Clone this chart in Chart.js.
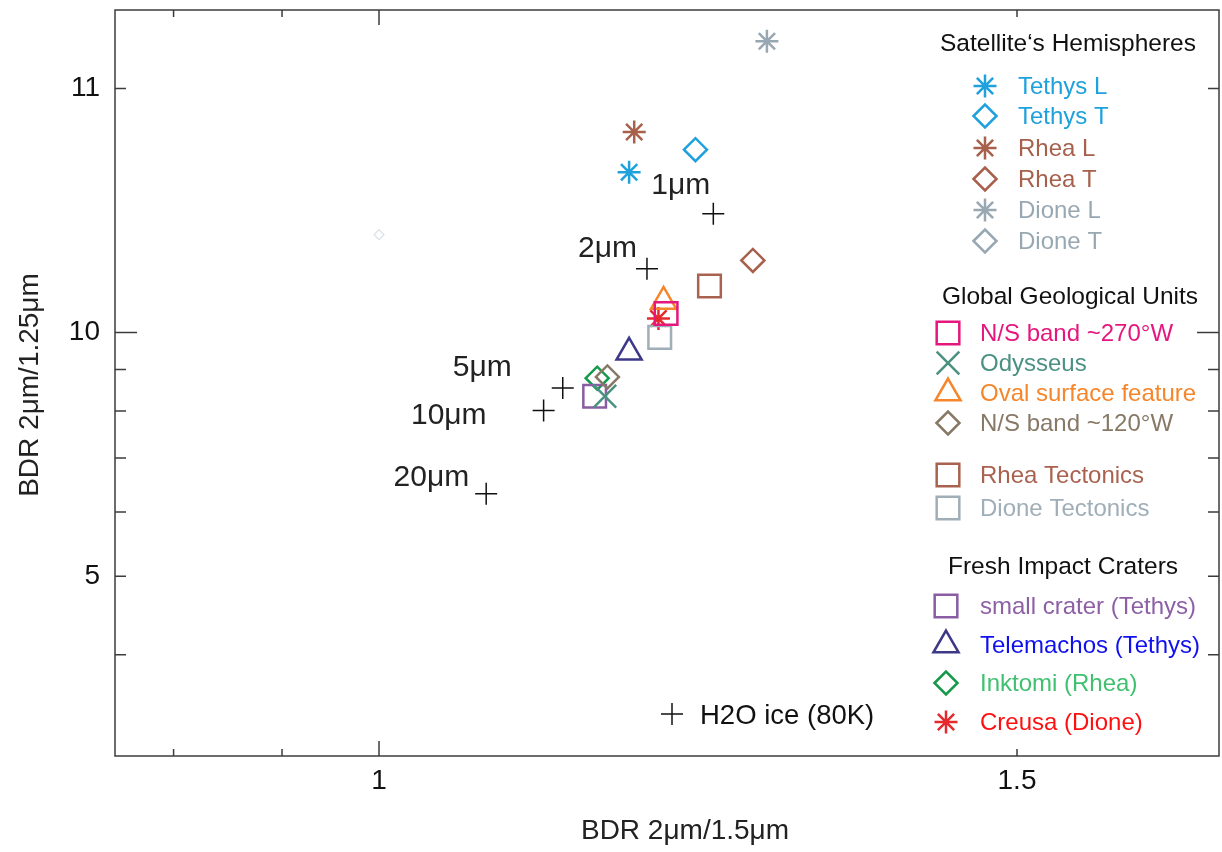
<!DOCTYPE html>
<html><head><meta charset="utf-8">
<script src="https://cdn.jsdelivr.net/npm/chart.js@4.4.1/dist/chart.umd.min.js"></script>
<style>html,body{margin:0;padding:0;background:#fff}canvas{display:block}</style>
</head><body>
<canvas id="c" width="1222" height="852" style="width:1222px;height:852px"></canvas>
<script>
// ---------- data ----------
const xRange = [0.7931, 1.6583];
const yRange = [3, 25];
const xTickValues = [1, 1.5];
const xTickLabels = ['1', '1.5'];
const xMinorTicks = [0.839, 0.924];
const yTickValues = [20, 10, 5];
const yTickLabels = ['11', '10', '5'];
const yMinorTicks = [9, 8, 7, 6, 4];

const h2oLabels = ['1μm', '2μm', '5μm', '10μm', '20μm'];
const h2oX = [1.262, 1.210, 1.144, 1.129, 1.084];
const h2oY = [14.01, 11.98, 8.54, 8.01, 6.32];

const hemiNames = ['Tethys L', 'Tethys T', 'Rhea L', 'Rhea T', 'Dione L', 'Dione T'];
const hemiX = [1.196, 1.248, 1.200, 1.293, 1.304, 1.000];
const hemiY = [15.76, 16.81, 17.67, 12.27, 22.87, 13.2];

const geoNames = ['N/S band ~270°W', 'Odysseus', 'Oval surface feature', 'N/S band ~120°W', 'Rhea Tectonics', 'Dione Tectonics'];
const geoX = [1.225, 1.177, 1.223, 1.179, 1.259, 1.220];
const geoY = [10.55, 8.34, 10.92, 8.81, 11.41, 9.86];

const craterNames = ['small crater (Tethys)', 'Telemachos (Tethys)', 'Inktomi (Rhea)', 'Creusa (Dione)'];
const craterX = [1.169, 1.196, 1.171, 1.219];
const craterY = [8.34, 9.45, 8.78, 10.40];

// ---------- styles ----------
const FONT = "'Liberation Sans', Arial, Helvetica, sans-serif";
const AREA = {left: 115, top: 10, right: 1219, bottom: 756};
const hemiStyles = [
  {shape: 'star', color: '#1ea1dc', text: '#1ea1dc', r: 11.5, w: 2.5},
  {shape: 'rectRot', color: '#1ea1dc', text: '#1ea1dc', r: 11.5, w: 2.5},
  {shape: 'star', color: '#a6604b', text: '#a6604b', r: 11.5, w: 2.5},
  {shape: 'rectRot', color: '#a6604b', text: '#a6604b', r: 11.5, w: 2.5},
  {shape: 'star', color: '#98a8b3', text: '#98a8b3', r: 11.5, w: 2.5},
  {shape: 'rectRot', color: '#98a8b3', text: '#98a8b3', r: 11.5, w: 2.5, plotColor: '#dde2e6', plotR: 5, plotW: 1.2}
];
const geoStyles = [
  {shape: 'rect', color: '#e5177f', text: '#e5177f', r: 16, w: 2.5},
  {shape: 'crossRot', color: '#4b9182', text: '#4b9182', r: 16, w: 2.5},
  {shape: 'triangle', color: '#f5862b', text: '#f5862b', r: 14.5, w: 2.5},
  {shape: 'rectRot', color: '#877966', text: '#877966', r: 11.5, w: 2.5},
  {shape: 'rect', color: '#a9624f', text: '#a9624f', r: 16, w: 2.5},
  {shape: 'rect', color: '#a0aeb8', text: '#a0aeb8', r: 16, w: 2.5}
];
const craterStyles = [
  {shape: 'rect', color: '#8a5ca3', text: '#8d5fa5', r: 16, w: 2.5},
  {shape: 'triangle', color: '#3d3888', text: '#1010ee', r: 14.5, w: 2.5},
  {shape: 'rectRot', color: '#16994a', text: '#40c070', r: 11.5, w: 2.5},
  {shape: 'star', color: '#e52a2e', text: '#ff1010', r: 11.5, w: 2.5}
];
const h2oStyle = {shape: 'cross', color: '#111', r: 11, w: 1.5};
// label offsets (text right edge / vertical center relative to the point)
const h2oLabelOffsets = [[-3, -28], [-10, -20], [-51, -20], [-57, 5], [-17, -16]];

// legend layout
const legendGroups = [
  {title: 'Satellite‘s Hemispheres', titleX: 1068, titleY: 44, markerX: 985, textX: 1018, ys: [86, 116, 148, 179, 210, 241], names: hemiNames, styles: hemiStyles},
  {title: 'Global Geological Units', titleX: 1070, titleY: 297, markerX: 948, textX: 980, ys: [333, 363, 393, 423, 475, 508], names: geoNames, styles: geoStyles},
  {title: 'Fresh Impact Craters', titleX: 1063, titleY: 567, markerX: 946, textX: 980, ys: [606, 645, 683, 722], names: craterNames, styles: craterStyles}
];

// ---------- datasets ----------
function makeDs(label, x, y, st) {
  return {
    label,
    data: [{x, y}],
    pointStyle: st.shape,
    pointRadius: st.plotR || st.r,
    pointBorderColor: st.plotColor || st.color,
    pointBackgroundColor: 'rgba(0,0,0,0)',
    pointBorderWidth: st.plotW || st.w,
    showLine: false
  };
}
const datasets = [];
datasets.push({
  label: 'H2O ice (80K)',
  data: h2oX.map((x, i) => ({x, y: h2oY[i]})),
  pointStyle: h2oStyle.shape, pointRadius: h2oStyle.r, pointBorderColor: h2oStyle.color,
  pointBackgroundColor: 'rgba(0,0,0,0)', pointBorderWidth: h2oStyle.w, showLine: false
});
hemiNames.forEach((n, i) => datasets.push(makeDs(n, hemiX[i], hemiY[i], hemiStyles[i])));
geoNames.forEach((n, i) => datasets.push(makeDs(n, geoX[i], geoY[i], geoStyles[i])));
craterNames.forEach((n, i) => datasets.push(makeDs(n, craterX[i], craterY[i], craterStyles[i])));

// ---------- plugins ----------
const framePlugin = {
  id: 'frame',
  afterDraw(chart) {
    const ctx = chart.ctx, a = chart.chartArea;
    const xs = chart.scales.x, ys = chart.scales.y;
    ctx.save();
    ctx.strokeStyle = '#3c3c3c';
    ctx.lineWidth = 1.5;
    ctx.strokeRect(a.left, a.top, a.right - a.left, a.bottom - a.top);
    ctx.beginPath();
    const xt = xTickValues.concat(xMinorTicks);
    xt.forEach(v => {
      const p = xs.getPixelForValue(v);
      const L = v === 1 ? 15 : 7;
      ctx.moveTo(p, a.bottom); ctx.lineTo(p, a.bottom - L);
      ctx.moveTo(p, a.top); ctx.lineTo(p, a.top + L);
    });
    const yt = yTickValues.concat(yMinorTicks);
    yt.forEach(v => {
      const p = ys.getPixelForValue(v);
      const L = v === 10 ? 22 : 11;
      ctx.moveTo(a.left, p); ctx.lineTo(a.left + L, p);
      ctx.moveTo(a.right, p); ctx.lineTo(a.right - L, p);
    });
    ctx.stroke();

    // axis titles
    ctx.fillStyle = '#222';
    ctx.font = '28px ' + FONT;
    ctx.textAlign = 'center';
    ctx.textBaseline = 'middle';
    ctx.fillText('BDR 2μm/1.5μm', (a.left + a.right) / 2 + 18, 831);
    ctx.save();
    ctx.translate(30, (a.top + a.bottom) / 2 + 2);
    ctx.rotate(-Math.PI / 2);
    ctx.fillText('BDR 2μm/1.25μm', 0, 0);
    ctx.restore();

    // H2O labels
    ctx.fillStyle = '#222';
    ctx.font = '30px ' + FONT;
    ctx.textAlign = 'right';
    ctx.textBaseline = 'middle';
    const meta = chart.getDatasetMeta(0);
    meta.data.forEach((pt, i) => {
      const o = h2oLabelOffsets[i];
      ctx.fillText(h2oLabels[i], pt.x + o[0], pt.y + o[1]);
    });

    // legends
    const H = Chart.helpers;
    legendGroups.forEach(g => {
      ctx.fillStyle = '#111';
      ctx.font = '24.5px ' + FONT;
      ctx.textAlign = 'center';
      ctx.textBaseline = 'middle';
      ctx.fillText(g.title, g.titleX, g.titleY);
      ctx.font = '24px ' + FONT;
      g.names.forEach((n, i) => {
        const st = g.styles[i];
        ctx.strokeStyle = st.color;
        ctx.fillStyle = 'rgba(0,0,0,0)';
        ctx.lineWidth = st.w;
        H.drawPoint(ctx, {pointStyle: st.shape, radius: st.r, rotation: 0, borderWidth: st.w}, g.markerX, g.ys[i]);
        ctx.fillStyle = st.text;
        ctx.textAlign = 'left';
        ctx.fillText(n, g.textX, g.ys[i] + 1);
      });
    });
    // H2O legend
    ctx.strokeStyle = h2oStyle.color;
    ctx.fillStyle = 'rgba(0,0,0,0)';
    ctx.lineWidth = h2oStyle.w;
    H.drawPoint(ctx, {pointStyle: 'cross', radius: h2oStyle.r, rotation: 0, borderWidth: h2oStyle.w}, 672, 714);
    ctx.fillStyle = '#111';
    ctx.textAlign = 'left';
    ctx.font = '27.5px ' + FONT;
    ctx.fillText('H2O ice (80K)', 700, 716);
    ctx.restore();
  }
};

Chart.defaults.font.family = FONT;
const chart = new Chart(document.getElementById('c'), {
  type: 'scatter',
  data: {datasets},
  options: {
    responsive: false,
    devicePixelRatio: 1,
    animation: false,
    events: [],
    layout: {autoPadding: false, padding: {left: 0, top: AREA.top, right: 1222 - AREA.right, bottom: 0}},
    plugins: {legend: {display: false}, tooltip: {enabled: false}},
    scales: {
      x: {
        type: 'linear', position: 'bottom', min: xRange[0], max: xRange[1],
        afterBuildTicks: s => { s.ticks = xTickValues.map(v => ({value: v})); },
        afterFit: s => { s.height = 852 - AREA.bottom; s.paddingLeft = 0; s.paddingRight = 0; s.paddingTop = 0; s.paddingBottom = 0; },
        ticks: {
          autoSkip: false, maxRotation: 0, padding: 8, color: '#111',
          font: {size: 28},
          callback: v => { const i = xTickValues.indexOf(v); return i >= 0 ? xTickLabels[i] : ''; }
        },
        grid: {display: false, drawTicks: false},
        border: {display: false},
        title: {display: false}
      },
      y: {
        type: 'logarithmic', position: 'left', min: yRange[0], max: yRange[1],
        afterBuildTicks: s => { s.ticks = yTickValues.map(v => ({value: v})); },
        afterFit: s => { s.width = AREA.left; s.paddingTop = 0; s.paddingBottom = 0; s.paddingLeft = 0; s.paddingRight = 0; },
        ticks: {
          autoSkip: false, padding: 15, color: '#111',
          font: {size: 28},
          callback: v => { const i = yTickValues.indexOf(v); return i >= 0 ? yTickLabels[i] : ''; }
        },
        grid: {display: false, drawTicks: false},
        border: {display: false},
        title: {display: false}
      }
    }
  },
  plugins: [framePlugin]
});
</script></body></html>
